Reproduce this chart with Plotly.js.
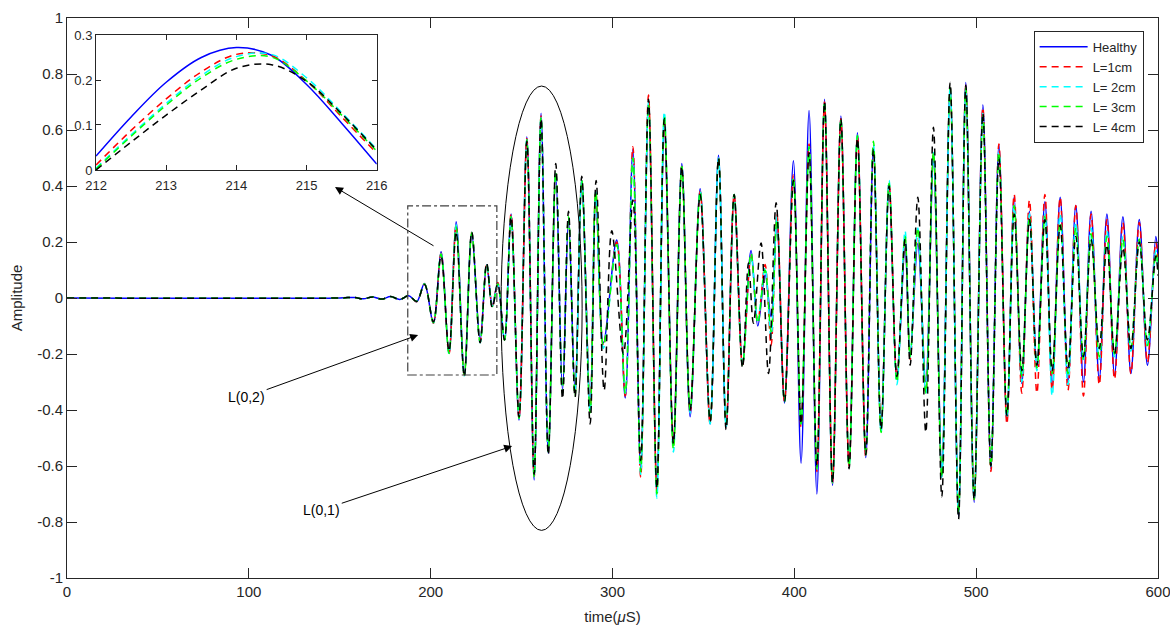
<!DOCTYPE html>
<html>
<head>
<meta charset="utf-8">
<script src="https://cdn.plot.ly/plotly-3.0.1.min.js"></script>
<style>html,body{margin:0;padding:0;background:#fff;}#chart{width:1170px;height:626px;}</style>
</head>
<body>
<div id="chart"></div>
<script>
// ---- main waveform: extrema (time in microseconds) ----
const tShared = [0,150,158,163,168,173,178,183,188,
  192.3,196.6,201.5,205.7,210.1,214.0,218.5,222.6,227.2,230.8,233.9,236.9,
  240.6,244.2,248.6,252.9,256.9,260.7,264.7,268.8,272.5,275.8,279.4,283.1,287.7,
  290.8,295.0,302.3,307.0,311.2,315.5,319.8,324.4,328.5,333.5,338.1,
  342.7,348.2,353.7,358.3,362.5,366.9,371.5,
  376.2,379.9,383.9,387.2,390.4,394.6,
  399.5,403.7,408.1,412.4,416.6,421.0,425.6,430.1,434.7,439.3,443.5,447.7,
  452.1,456.4,460.9,463.7,467.9,472.3,476.5,481.1,485.7,490.3,494.3,498.9,
  503.7,508.1,512.5,516.9,520.9,525.1,529.3,533.4,537.8,541.8,546.2,550.5,554.8,559.0,563.2,567.7,571.9,576.1,580.7,585.1,589.7,594.2,598.8,600];

const vHealthy = [0,0,0.002,-0.003,0.004,-0.004,0.005,-0.005,0.008,
  -0.013,0.052,-0.09,0.165,-0.196,0.272,-0.27,0.23,-0.15,0.118,-0.025,0.054,
  -0.15,0.30,-0.436,0.576,-0.65,0.66,-0.555,0.445,-0.33,0.28,-0.33,0.41,-0.39,
  0.36,-0.16,0.207,-0.357,0.53,-0.61,0.68,-0.66,0.60,-0.50,0.48,
  -0.424,0.39,-0.45,0.51,-0.46,0.36,-0.23,
  0.17,-0.10,0.082,-0.067,0.267,-0.375,
  0.49,-0.59,0.67,-0.70,0.71,-0.67,0.65,-0.60,0.59,-0.57,0.53,-0.47,
  0.40,-0.29,0.18,-0.21,0.195,-0.30,0.49,-0.61,0.75,-0.78,0.77,-0.73,
  0.69,-0.61,0.546,-0.44,0.36,-0.305,0.31,-0.245,0.344,-0.31,0.36,-0.30,0.33,-0.30,0.31,-0.29,0.30,-0.275,0.29,-0.27,0.28,-0.24,0.22,0.15];

const v1cm = [0,0,0.002,-0.003,0.004,-0.004,0.005,-0.005,0.008,
  -0.013,0.05,-0.09,0.16,-0.2,0.261,-0.275,0.235,-0.155,0.12,-0.03,0.055,
  -0.15,0.30,-0.43,0.57,-0.64,0.65,-0.55,0.45,-0.34,0.29,-0.34,0.42,-0.40,
  0.38,-0.17,0.20,-0.35,0.54,-0.64,0.725,-0.69,0.63,-0.52,0.47,
  -0.41,0.38,-0.45,0.50,-0.46,0.37,-0.24,
  0.15,-0.08,0.12,-0.17,0.30,-0.37,
  0.44,-0.46,0.55,-0.62,0.70,-0.66,0.64,-0.60,0.58,-0.57,0.54,-0.47,
  0.41,-0.28,0.21,-0.22,0.24,-0.34,0.52,-0.64,0.75,-0.77,0.76,-0.72,
  0.68,-0.62,0.55,-0.45,0.37,-0.34,0.35,-0.34,0.37,-0.33,0.36,-0.33,0.33,-0.35,0.30,-0.31,0.28,-0.29,0.27,-0.27,0.27,-0.23,0.20,0.14];

const v2cm = [0,0,0.002,-0.003,0.004,-0.004,0.005,-0.005,0.008,
  -0.012,0.05,-0.088,0.158,-0.2,0.261,-0.278,0.235,-0.16,0.12,-0.03,0.05,
  -0.15,0.29,-0.43,0.565,-0.64,0.645,-0.55,0.45,-0.34,0.29,-0.34,0.42,-0.41,
  0.38,-0.18,0.19,-0.34,0.50,-0.63,0.70,-0.715,0.665,-0.55,0.47,
  -0.41,0.38,-0.45,0.50,-0.46,0.37,-0.24,
  0.15,-0.08,0.11,-0.14,0.29,-0.37,
  0.43,-0.45,0.54,-0.61,0.70,-0.66,0.64,-0.60,0.58,-0.56,0.55,-0.48,
  0.42,-0.31,0.24,-0.21,0.25,-0.34,0.52,-0.64,0.75,-0.77,0.75,-0.72,
  0.66,-0.60,0.52,-0.43,0.33,-0.30,0.30,-0.26,0.30,-0.35,0.30,-0.31,0.27,-0.22,0.25,-0.22,0.24,-0.21,0.22,-0.19,0.21,-0.17,0.17,0.10];

const v3cm = [0,0,0.002,-0.003,0.004,-0.004,0.005,-0.005,0.008,
  -0.012,0.05,-0.088,0.156,-0.198,0.254,-0.275,0.232,-0.158,0.12,-0.03,0.05,
  -0.15,0.29,-0.43,0.565,-0.64,0.645,-0.55,0.45,-0.34,0.29,-0.35,0.42,-0.41,
  0.38,-0.17,0.19,-0.34,0.50,-0.62,0.69,-0.70,0.65,-0.54,0.47,
  -0.40,0.38,-0.44,0.50,-0.45,0.37,-0.24,
  0.16,-0.09,0.10,-0.12,0.28,-0.37,
  0.43,-0.45,0.54,-0.61,0.70,-0.66,0.64,-0.60,0.58,-0.56,0.56,-0.48,
  0.41,-0.30,0.22,-0.21,0.25,-0.34,0.52,-0.64,0.75,-0.77,0.75,-0.72,
  0.65,-0.60,0.52,-0.42,0.33,-0.28,0.29,-0.25,0.29,-0.27,0.27,-0.27,0.25,-0.22,0.23,-0.21,0.22,-0.20,0.21,-0.18,0.21,-0.17,0.16,0.10];

const t4cm = [0,150,158,163,168,173,178,183,188,
  192.3,196.6,201.5,205.7,210.1,214.0,218.5,222.6,227.2,230.8,233.9,236.9,
  240.6,244.2,248.6,252.9,256.9,260.7,264.7,268.8,272.5,275.8,279.4,283.1,287.7,
  291.0,295.4,299.6,306.0,311.2,315.5,319.8,324.4,328.5,333.5,338.1,
  342.7,348.2,353.7,358.3,362.5,366.9,371.5,
  374.8,377.5,381.7,385.8,390.0,394.6,
  399.5,403.7,408.1,412.4,416.6,421.0,425.6,430.1,434.7,439.3,443.5,447.7,
  452.1,456.4,460.9,463.7,467.9,472.3,476.5,481.1,485.7,490.3,494.3,498.9,
  503.7,508.1,512.5,516.9,520.9,525.1,529.3,533.4,537.8,541.8,546.2,550.5,554.8,559.0,563.2,567.7,571.9,576.1,580.7,585.1,589.7,594.2,598.8,600];

const v4cm = [0,0,0.002,-0.003,0.004,-0.004,0.005,-0.005,0.008,
  -0.012,0.048,-0.085,0.15,-0.19,0.237,-0.28,0.235,-0.16,0.125,-0.035,0.05,
  -0.15,0.29,-0.425,0.56,-0.63,0.64,-0.56,0.48,-0.36,0.31,-0.355,0.435,-0.45,
  0.42,-0.33,0.24,-0.20,0.35,-0.58,0.71,-0.68,0.64,-0.52,0.47,
  -0.40,0.37,-0.44,0.50,-0.47,0.37,-0.25,
  0.125,-0.09,0.196,-0.27,0.34,-0.37,
  0.42,-0.45,0.52,-0.60,0.70,-0.66,0.64,-0.61,0.57,-0.56,0.53,-0.47,
  0.40,-0.28,0.21,-0.24,0.36,-0.48,0.61,-0.71,0.77,-0.79,0.76,-0.72,
  0.66,-0.60,0.50,-0.42,0.30,-0.26,0.28,-0.24,0.28,-0.26,0.26,-0.25,0.22,-0.21,0.21,-0.18,0.19,-0.20,0.18,-0.18,0.20,-0.15,0.15,0.08];

// ---- inset (zoom 212-216 us) ----
const tInset = [212,212.5,213,213.5,214,214.5,215,215.5,216];
const insHealthy = [0.031,0.118,0.195,0.25,0.272,0.255,0.19,0.104,0.013];
const ins1cm = [0.011,0.088,0.158,0.218,0.257,0.254,0.198,0.118,0.037];
const ins2cm = [0.004,0.078,0.148,0.21,0.252,0.257,0.205,0.128,0.046];
const ins3cm = [0.002,0.075,0.144,0.205,0.246,0.251,0.198,0.122,0.042];
const ins4cm = [0.0,0.062,0.122,0.178,0.226,0.234,0.197,0.125,0.044];

const seriesNames = ['Healthy','L=1cm','L= 2cm','L= 3cm','L= 4cm'];
const seriesColors = ['#0000FF','#FF0000','#00FFFF','#00FF00','#000000'];

const yTickVals = [-1,-0.8,-0.6,-0.4,-0.2,0,0.2,0.4,0.6,0.8,1];
const yTickText = ['-1','-0.8','-0.6','-0.4','-0.2','0','0.2','0.4','0.6','0.8','1'];
const xTickVals = [0,100,200,300,400,500,600];
const insXTicks = [212,213,214,215,216];
const insYTicks = [0,0.1,0.2,0.3];
const insYText = ['0','0.1','0.2','0.3'];

const mainX = [tShared,tShared,tShared,tShared,t4cm];
const mainY = [vHealthy,v1cm,v2cm,v3cm,v4cm];
const insY = [insHealthy,ins1cm,ins2cm,ins3cm,ins4cm];

const traces = [];
for (let i=0;i<5;i++){
  traces.push({x:mainX[i], y:mainY[i], type:'scatter', mode:'lines', name:seriesNames[i],
    line:{color:seriesColors[i], width:1.5, shape:'spline', smoothing:1, dash: i===0?'solid':'7px,5px'},
    xaxis:'x', yaxis:'y'});
}
for (let i=0;i<5;i++){
  traces.push({x:tInset, y:insY[i], type:'scatter', mode:'lines', showlegend:false,
    line:{color:seriesColors[i], width:1.5, shape:'spline', smoothing:1, dash: i===0?'solid':'7px,5px'},
    xaxis:'x2', yaxis:'y2'});
}

const axCol = '#262626';
const fontFam = 'Arial, "Liberation Sans", Helvetica, sans-serif';

const layout = {
  width:1170, height:626,
  margin:{l:67, r:12, t:18, b:48},
  paper_bgcolor:'#fff', plot_bgcolor:'#fff',
  font:{family:fontFam, color:axCol, size:14},
  showlegend:true,
  legend:{x:0.886, y:0.977, xanchor:'left', yanchor:'top', bgcolor:'#fff', bordercolor:axCol, borderwidth:1,
    font:{size:13, family:fontFam, color:axCol}, tracegroupgap:0, itemwidth:48},
  xaxis:{domain:[0,1], range:[0,600], tickvals:xTickVals, ticks:'inside', ticklen:10, tickcolor:axCol,
    showline:true, linecolor:axCol, linewidth:1, mirror:'ticks', showgrid:false, zeroline:false, ticklabeloverflow:'allow',
    tickfont:{size:15}, title:{text:'time(<i>μ</i>S)', font:{size:15}, standoff:12}},
  yaxis:{domain:[0,1], range:[-1,1], tickvals:yTickVals, ticktext:yTickText, ticks:'inside', ticklen:10, tickcolor:axCol,
    showline:true, linecolor:axCol, linewidth:1, mirror:'ticks', showgrid:false, zeroline:false, ticklabeloverflow:'allow',
    tickfont:{size:15}, title:{text:'Amplitude', font:{size:15}, standoff:10}},
  xaxis2:{domain:[0.0266,0.2839], anchor:'y2', range:[212,216], tickvals:insXTicks, ticks:'inside', ticklen:5, tickcolor:axCol,
    showline:true, linecolor:axCol, linewidth:1, mirror:'ticks', showgrid:false, zeroline:false, tickfont:{size:13}, ticklabelstandoff:3},
  yaxis2:{domain:[0.7286,0.9696], anchor:'x2', range:[0,0.3], tickvals:insYTicks, ticktext:insYText, ticks:'inside', ticklen:5, tickcolor:axCol,
    showline:true, linecolor:axCol, linewidth:1, mirror:'ticks', showgrid:false, zeroline:false, tickfont:{size:13}},
  shapes:[
    {type:'rect', xref:'x', yref:'y', x0:187.4, x1:236.4, y0:-0.275, y1:0.329,
      line:{color:'#404040', width:1.2, dash:'dashdot'}},
    {type:'circle', xref:'x', yref:'y', x0:238.7, x1:283.3, y0:-0.83, y1:0.757,
      line:{color:'#000', width:1}}
  ],
  annotations:[
    {xref:'x', yref:'y', x:147.4, y:0.396, axref:'x', ayref:'y', ax:203.5, ay:0.179, text:' ',
      showarrow:true, arrowhead:2, arrowsize:1.6, arrowwidth:1, arrowcolor:'#000'},
    {xref:'x', yref:'y', x:193.1, y:-0.132, axref:'x', ayref:'y', ax:98.8, ay:-0.353, text:'L(0,2)',
      font:{size:14, color:'#000'}, showarrow:true, arrowhead:2, arrowsize:1.6, arrowwidth:1, arrowcolor:'#000'},
    {xref:'x', yref:'y', x:244.8, y:-0.529, axref:'x', ayref:'y', ax:140.1, ay:-0.757, text:'L(0,1)',
      font:{size:14, color:'#000'}, showarrow:true, arrowhead:2, arrowsize:1.6, arrowwidth:1, arrowcolor:'#000'}
  ]
};

Plotly.newPlot('chart', traces, layout, {staticPlot:true, displayModeBar:false});
</script>
</body>
</html>
